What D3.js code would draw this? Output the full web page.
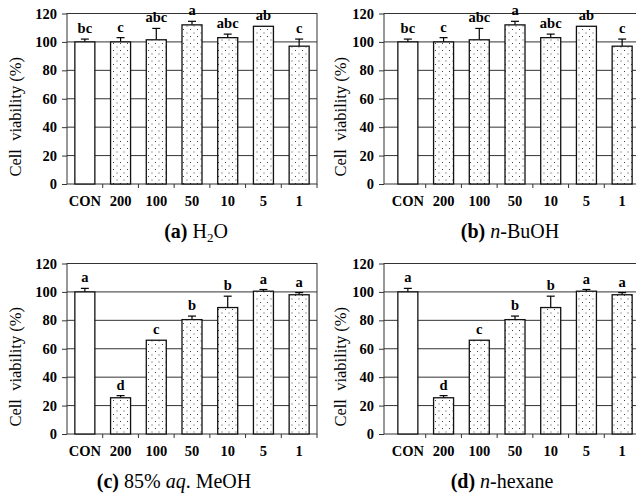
<!DOCTYPE html>
<html>
<head>
<meta charset="utf-8">
<script src="https://cdn.jsdelivr.net/npm/d3@7"></script>
<style>
  body { margin: 0; background: #fff; }
  svg { display: block; font-family: "Liberation Serif", "Times New Roman", serif; }
</style>
</head>
<body>
<div id="chart"></div>
<script>
// Data
const categories = ["CON", "200", "100", "50", "10", "5", "1"];
const yTicks = [0, 20, 40, 60, 80, 100, 120];

// (a) H2O and (b) n-BuOH show the same values
const polarValues = [100, 100, 101.5, 112, 103, 111, 97];
const polarErrors = [2, 3, 8, 2.5, 2.5, 0, 5];
const polarLetters = ["bc", "c", "abc", "a", "abc", "ab", "c"];

// (c) 85% aq. MeOH and (d) n-hexane show the same values
const nonpolarValues = [100, 25.5, 66, 80.5, 89, 100.5, 98];
const nonpolarErrors = [2.5, 1.5, 0, 2.5, 8, 1.2, 1.5];
const nonpolarLetters = ["a", "d", "c", "b", "b", "a", "a"];

const width = 636, height = 499;

const svg = d3.select("#chart")
    .append("svg")
    .attr("width", width)
    .attr("height", height);

svg.append("rect").attr("width", width).attr("height", height).attr("fill", "#fff");

// dotted fill for the extract bars
const pattern = svg.append("defs")
    .append("pattern")
    .attr("id", "dots")
    .attr("patternUnits", "userSpaceOnUse")
    .attr("width", 7)
    .attr("height", 7);

pattern.append("rect").attr("width", 7).attr("height", 7).attr("fill", "#fff");
pattern.append("rect").attr("x", 1).attr("y", 1).attr("width", 1).attr("height", 1).attr("fill", "#444");
pattern.append("rect").attr("x", 4.5).attr("y", 4.5).attr("width", 1).attr("height", 1).attr("fill", "#444");

// panel layout
const panels = [
    { left: 67, right: 317, band0: 67, band1: 317, top: 13.5, bottom: 184, labelX: 16, titleX: 196,
      values: polarValues, errors: polarErrors, letters: polarLetters, title: "a" },
    { left: 384, right: 640, band0: 390, band1: 640, top: 13.5, bottom: 184, labelX: 341, titleX: 510,
      values: polarValues, errors: polarErrors, letters: polarLetters, title: "b" },
    { left: 67, right: 317, band0: 67, band1: 317, top: 263.5, bottom: 434, labelX: 16, titleX: 174,
      values: nonpolarValues, errors: nonpolarErrors, letters: nonpolarLetters, title: "c" },
    { left: 384, right: 640, band0: 390, band1: 640, top: 263.5, bottom: 434, labelX: 341, titleX: 502,
      values: nonpolarValues, errors: nonpolarErrors, letters: nonpolarLetters, title: "d" }
];

panels.forEach(p => {
    const g = svg.append("g");

    const x = d3.scaleBand()
        .domain(categories)
        .range([p.band0, p.band1])
        .paddingInner(0.44)
        .paddingOuter(0.22);

    const y = d3.scaleLinear()
        .domain([0, 120])
        .range([p.bottom, p.top]);

    // horizontal grid lines
    g.selectAll(".grid")
        .data(yTicks.slice(1, -1))
        .join("line")
        .attr("x1", p.left)
        .attr("x2", p.right)
        .attr("y1", d => y(d))
        .attr("y2", d => y(d))
        .attr("stroke", "#333")
        .attr("stroke-width", 1);

    // plot box
    g.append("rect")
        .attr("x", p.left)
        .attr("y", y(120))
        .attr("width", p.right - p.left)
        .attr("height", y(0) - y(120))
        .attr("fill", "none")
        .attr("stroke", "#333")
        .attr("stroke-width", 1);

    const data = categories.map((c, i) => ({ c, v: p.values[i], e: p.errors[i], l: p.letters[i], i }));

    // error bars (upper only)
    const err = g.selectAll(".err").data(data.filter(d => d.e > 0)).join("g");
    err.append("line")
        .attr("x1", d => x(d.c) + x.bandwidth() / 2)
        .attr("x2", d => x(d.c) + x.bandwidth() / 2)
        .attr("y1", d => y(d.v))
        .attr("y2", d => y(d.v + d.e))
        .attr("stroke", "#000")
        .attr("stroke-width", 1.2);
    err.append("line")
        .attr("x1", d => x(d.c) + x.bandwidth() / 2 - 4)
        .attr("x2", d => x(d.c) + x.bandwidth() / 2 + 4)
        .attr("y1", d => y(d.v + d.e))
        .attr("y2", d => y(d.v + d.e))
        .attr("stroke", "#000")
        .attr("stroke-width", 1.2);

    // bars
    g.selectAll(".bar")
        .data(data)
        .join("rect")
        .attr("x", d => x(d.c))
        .attr("y", d => y(d.v))
        .attr("width", x.bandwidth())
        .attr("height", d => y(0) - y(d.v))
        .attr("fill", d => d.i === 0 ? "#fff" : "url(#dots)")
        .attr("stroke", "#111")
        .attr("stroke-width", 1.3);

    // significance letters
    g.selectAll(".letter")
        .data(data)
        .join("text")
        .attr("x", d => x(d.c) + x.bandwidth() / 2)
        .attr("y", d => y(d.v + d.e) - 6)
        .attr("text-anchor", "middle")
        .style("font-size", "14.5px")
        .style("font-weight", "bold")
        .text(d => d.l);

    // y axis
    const yAxis = g.append("g")
        .attr("transform", `translate(${p.left},0)`)
        .call(d3.axisLeft(y).tickValues(yTicks).tickSize(5).tickPadding(5));
    yAxis.select(".domain").remove();
    yAxis.selectAll(".tick line").attr("stroke", "#333");
    yAxis.selectAll(".tick text")
        .attr("fill", "#000")
        .style("font-family", "Liberation Serif")
        .style("font-size", "14.5px")
        .style("font-weight", "bold");

    // x axis: ticks between the bars, labels under each bar
    const xTicks = d3.range(1, categories.length + 1).map(k => p.band0 + k * (p.band1 - p.band0) / categories.length);
    g.selectAll(".xtick")
        .data(xTicks)
        .join("line")
        .attr("x1", d => d)
        .attr("x2", d => d)
        .attr("y1", y(0))
        .attr("y2", y(0) + 4)
        .attr("stroke", "#333");

    g.selectAll(".xlabel")
        .data(categories)
        .join("text")
        .attr("x", d => x(d) + x.bandwidth() / 2)
        .attr("y", y(0) + 22)
        .attr("text-anchor", "middle")
        .style("font-size", "14.5px")
        .style("font-weight", "bold")
        .text(d => d);

    // y axis title
    g.append("text")
        .attr("transform", `translate(${p.labelX + 5},${(p.top + p.bottom) / 2 + 18}) rotate(-90)`)
        .attr("text-anchor", "middle")
        .style("font-size", "16.5px")
        .style("white-space", "pre")
        .text("Cell  viability (%)");

    // panel caption
    const cap = g.append("text")
        .attr("x", p.titleX)
        .attr("y", p.bottom + 54)
        .attr("text-anchor", "middle")
        .style("font-size", "20px");
    cap.append("tspan").style("font-weight", "bold").text(`(${p.title})`);
    if (p.title === "a") {
        cap.append("tspan").text(" H");
        cap.append("tspan").attr("dy", 4).style("font-size", "13px").text("2");
        cap.append("tspan").attr("dy", -4).text("O");
    } else if (p.title === "b") {
        cap.append("tspan").text(" ");
        cap.append("tspan").style("font-style", "italic").text("n");
        cap.append("tspan").text("-BuOH");
    } else if (p.title === "c") {
        cap.append("tspan").text(" 85% ");
        cap.append("tspan").style("font-style", "italic").text("aq");
        cap.append("tspan").text(". MeOH");
    } else {
        cap.append("tspan").text(" ");
        cap.append("tspan").style("font-style", "italic").text("n");
        cap.append("tspan").text("-hexane");
    }
});
</script>
</body>
</html>
